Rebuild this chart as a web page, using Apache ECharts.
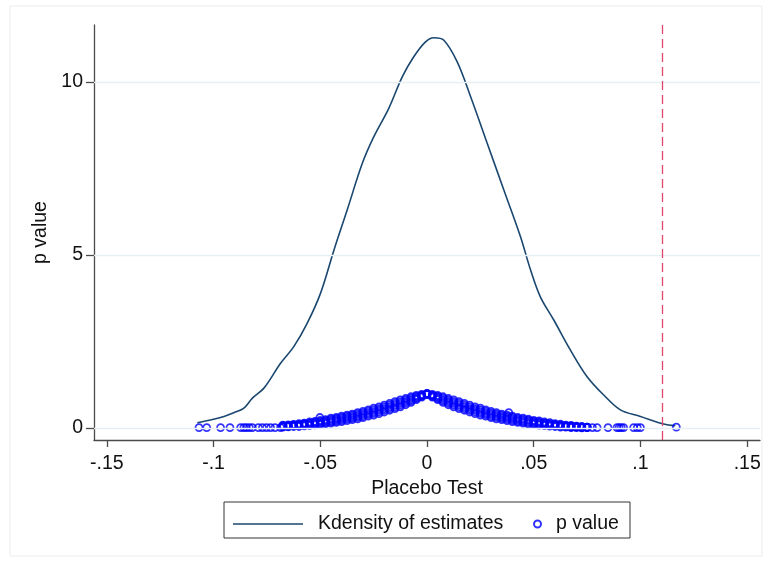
<!DOCTYPE html>
<html>
<head>
<meta charset="utf-8">
<script src="https://cdn.jsdelivr.net/npm/echarts@6/dist/echarts.min.js"></script>
<style>
html, body { margin: 0; padding: 0; background: #fff; }
#chart { width: 770px; height: 563px; }
</style>
</head>
<body>
<div id="chart"></div>
<script>
// kernel density of the placebo estimates
const kdX = [-0.1076, -0.1000, -0.0951, -0.0900, -0.0858, -0.0818, -0.0764, -0.0686, -0.0624, -0.0561,
  -0.0499, -0.0436, -0.0374, -0.0303, -0.0249, -0.0179, -0.0116, -0.0062, -0.0007, 0.0032,
  0.0079, 0.0141, 0.0204, 0.0282, 0.0360, 0.0438, 0.0485, 0.0531, 0.0594, 0.0672,
  0.0750, 0.0828, 0.0906, 0.1000, 0.1109, 0.1163];
const kdY = [0.15, 0.25, 0.33, 0.45, 0.57, 0.86, 1.15, 1.87, 2.35, 3.03,
  3.89, 5.14, 6.30, 7.65, 8.42, 9.24, 10.15, 10.73, 11.16, 11.28,
  11.21, 10.59, 9.58, 8.23, 6.88, 5.53, 4.57, 3.79, 3.12, 2.25,
  1.48, 0.95, 0.52, 0.33, 0.11, 0.06];

// p value cloud: estimate positions and five p values across the band (top to bottom)
const bandEst = [-0.0675, -0.065, -0.0625, -0.06, -0.0575, -0.055, -0.0525, -0.05, -0.0475, -0.045,
  -0.0425, -0.04, -0.0375, -0.035, -0.0325, -0.03, -0.0275, -0.025, -0.0225, -0.02,
  -0.0175, -0.015, -0.0125, -0.01, -0.0075, -0.005, -0.0025, 0, 0.0025, 0.005,
  0.0075, 0.01, 0.0125, 0.015, 0.0175, 0.02, 0.0225, 0.025, 0.0275, 0.03,
  0.0325, 0.035, 0.0375, 0.04, 0.0425, 0.045, 0.0475, 0.05, 0.0525, 0.055,
  0.0575, 0.06, 0.0625, 0.065, 0.0675, 0.07, 0.0725, 0.075];
const bandHigh = [0.08, 0.09, 0.10, 0.12, 0.14, 0.17, 0.19, 0.22, 0.24, 0.28,
  0.30, 0.34, 0.37, 0.40, 0.44, 0.48, 0.52, 0.57, 0.61, 0.66,
  0.71, 0.76, 0.81, 0.85, 0.90, 0.94, 0.97, 1.00, 0.97, 0.94,
  0.90, 0.85, 0.81, 0.76, 0.71, 0.66, 0.61, 0.57, 0.52, 0.48,
  0.44, 0.40, 0.37, 0.34, 0.30, 0.28, 0.25, 0.22, 0.20, 0.17,
  0.15, 0.12, 0.105, 0.08, 0.07, 0.05, 0.04, 0.025];
const bandUpper = [0.065, 0.075, 0.085, 0.10, 0.12, 0.145, 0.165, 0.19, 0.21, 0.245,
  0.265, 0.30, 0.33, 0.36, 0.395, 0.435, 0.475, 0.52, 0.56, 0.61,
  0.66, 0.71, 0.76, 0.805, 0.86, 0.91, 0.95, 0.99, 0.95, 0.91,
  0.86, 0.805, 0.76, 0.71, 0.66, 0.61, 0.56, 0.52, 0.475, 0.435,
  0.395, 0.36, 0.33, 0.30, 0.265, 0.245, 0.215, 0.19, 0.17, 0.145,
  0.125, 0.10, 0.085, 0.065, 0.055, 0.04, 0.03, 0.02];
const bandMid = [0.05, 0.06, 0.07, 0.08, 0.10, 0.12, 0.14, 0.16, 0.18, 0.21,
  0.23, 0.26, 0.29, 0.32, 0.35, 0.39, 0.43, 0.47, 0.51, 0.56,
  0.61, 0.66, 0.71, 0.76, 0.82, 0.88, 0.93, 0.98, 0.93, 0.88,
  0.82, 0.76, 0.71, 0.66, 0.61, 0.56, 0.51, 0.47, 0.43, 0.39,
  0.35, 0.32, 0.29, 0.26, 0.23, 0.21, 0.18, 0.16, 0.14, 0.12,
  0.10, 0.08, 0.065, 0.05, 0.04, 0.03, 0.02, 0.015];
const bandLower = [0.035, 0.045, 0.055, 0.06, 0.08, 0.095, 0.115, 0.13, 0.15, 0.175,
  0.195, 0.22, 0.25, 0.28, 0.305, 0.345, 0.385, 0.42, 0.46, 0.51,
  0.56, 0.61, 0.66, 0.715, 0.78, 0.85, 0.91, 0.97, 0.91, 0.85,
  0.78, 0.715, 0.66, 0.61, 0.56, 0.51, 0.46, 0.42, 0.385, 0.345,
  0.305, 0.28, 0.25, 0.22, 0.195, 0.175, 0.145, 0.13, 0.11, 0.095,
  0.075, 0.06, 0.045, 0.035, 0.025, 0.02, 0.01, 0.01];
const bandLow = [0.02, 0.03, 0.04, 0.04, 0.06, 0.07, 0.09, 0.10, 0.12, 0.14,
  0.16, 0.18, 0.21, 0.24, 0.26, 0.30, 0.34, 0.37, 0.41, 0.46,
  0.51, 0.56, 0.61, 0.67, 0.74, 0.82, 0.89, 0.96, 0.89, 0.82,
  0.74, 0.67, 0.61, 0.56, 0.51, 0.46, 0.41, 0.37, 0.34, 0.30,
  0.26, 0.24, 0.21, 0.18, 0.16, 0.14, 0.11, 0.10, 0.08, 0.07,
  0.05, 0.04, 0.025, 0.02, 0.01, 0.01, 0.0, 0.005];

// scattered points in the tails and a couple of stray ones
const sparseEst = [-0.1068, -0.1032, -0.0967, -0.0923, -0.0873, -0.0858, -0.0846, -0.0832, -0.0818, -0.0790,
  -0.0771, -0.0752, -0.0733, -0.0712, -0.0686, 0.0775, 0.0797, 0.0848, 0.0890, 0.0900,
  0.0910, 0.0921, 0.0968, 0.0985, 0.1000, 0.1168, -0.0502, 0.0383];
const sparseP = [0.01, 0.01, 0.01, 0.01, 0.01, 0.01, 0.01, 0.01, 0.01, 0.01,
  0.01, 0.01, 0.01, 0.01, 0.01, 0.01, 0.01, 0.01, 0.01, 0.01,
  0.01, 0.01, 0.01, 0.01, 0.01, 0.02, 0.30, 0.44];

const xTicks = [-0.15, -0.1, -0.05, 0, 0.05, 0.1, 0.15];
const xTickLabels = ['-.15', '-.1', '-.05', '0', '.05', '.1', '.15'];
const yTicks = [0, 5, 10];
const trueEffect = 0.11;

const font = 'Liberation Sans, Arial, sans-serif';
const fontSize = 19.5;
const axisColor = '#4a4a4a';

const kdData = kdX.map((x, i) => [x, kdY[i]]);
const pData = [];
bandEst.forEach((x, i) => {
  pData.push([x, bandHigh[i]], [x, bandUpper[i]], [x, bandMid[i]], [x, bandLower[i]], [x, bandLow[i]]);
});
sparseEst.forEach((x, i) => pData.push([x, sparseP[i]]));

const myChart = echarts.init(document.getElementById('chart'));
myChart.setOption({
  animation: false,
  backgroundColor: '#fff',
  grid: { left: 94, right: 10, top: 25, bottom: 123 },
  xAxis: {
    type: 'value',
    min: -0.156,
    max: 0.156,
    name: 'Placebo Test',
    nameLocation: 'middle',
    nameGap: 33,
    nameTextStyle: { fontSize: fontSize, color: '#111', fontFamily: font },
    axisLine: { onZero: false, lineStyle: { color: axisColor, width: 1.3 } },
    axisTick: { customValues: xTicks, length: 7, lineStyle: { color: axisColor, width: 1.3 } },
    axisLabel: {
      customValues: xTicks,
      fontSize: fontSize, color: '#111', fontFamily: font, margin: 14,
      formatter: v => xTickLabels[xTicks.findIndex(t => Math.abs(t - v) < 1e-9)]
    },
    splitLine: { show: false }
  },
  yAxis: {
    type: 'value',
    min: -0.35,
    max: 11.65,
    name: 'p value',
    nameLocation: 'middle',
    nameGap: 40,
    nameRotate: 90,
    nameTextStyle: { fontSize: fontSize, color: '#111', fontFamily: font },
    axisLine: { show: true, onZero: false, lineStyle: { color: axisColor, width: 1.3 } },
    axisTick: { show: true, customValues: yTicks, length: 8, lineStyle: { color: axisColor, width: 1.3 } },
    axisLabel: { customValues: yTicks, fontSize: fontSize, color: '#111', fontFamily: font, margin: 11 },
    splitLine: { show: false }
  },
  legend: [
    {
      data: [{ name: 'Kdensity of estimates', icon: 'rect' }],
      left: 233, top: 514, padding: 0,
      itemWidth: 70, itemHeight: 1.6,
      textStyle: { fontSize: fontSize, color: '#111', fontFamily: font, padding: [0, 0, 0, 10] }
    },
    {
      data: [{
        name: 'p value',
        icon: 'circle',
        itemStyle: { color: 'rgba(0,0,0,0)', borderColor: '#0000ff', borderWidth: 2 }
      }],
      left: 533, top: 514, padding: 0,
      itemWidth: 7, itemHeight: 7,
      textStyle: { fontSize: fontSize, color: '#111', fontFamily: font, padding: [0, 0, 0, 10] }
    }
  ],
  graphic: [
    { type: 'rect', shape: { x: 10, y: 6, width: 752, height: 550 }, style: { fill: 'none', stroke: '#ededed', lineWidth: 1 }, silent: true },
    { type: 'rect', shape: { x: 224, y: 502, width: 406, height: 36 }, style: { fill: 'none', stroke: '#333', lineWidth: 1 }, silent: true }
  ],
  series: [
    {
      name: 'grid',
      type: 'line',
      data: [],
      z: 1,
      silent: true,
      markLine: {
        silent: true,
        symbol: ['none', 'none'],
        label: { show: false },
        lineStyle: { color: '#e6eff1', width: 1.3, type: 'solid' },
        data: yTicks.map(v => ({ yAxis: v })).concat([
          { xAxis: trueEffect, lineStyle: { color: '#e0476d', width: 1.3, type: [9, 5] } }
        ])
      }
    },
    {
      name: 'Kdensity of estimates',
      type: 'line',
      data: kdData,
      showSymbol: false,
      symbol: 'none',
      smooth: 0.35,
      z: 3,
      lineStyle: { color: '#1a476f', width: 1.6 },
      itemStyle: { color: '#1a476f' }
    },
    {
      name: 'p value',
      type: 'scatter',
      data: pData,
      symbol: 'circle',
      symbolSize: 7,
      z: 4,
      // hollow rings without a white fill, so overlapping markers merge like in the original
      itemStyle: { color: 'rgba(0,0,0,0)', borderColor: '#0000ff', borderWidth: 1.8 }
    }
  ]
});
</script>
</body>
</html>
